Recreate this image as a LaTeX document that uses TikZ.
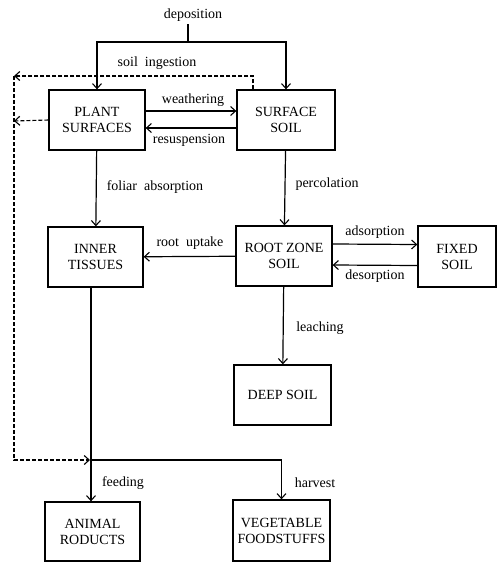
\documentclass[tikz,border=0pt]{standalone}
\usepackage{fontspec}
\setmainfont{Liberation Serif}
\usetikzlibrary{arrows.meta}
\begin{document}
\begin{tikzpicture}[x=1pt,y=-1pt,
  box/.style={draw,line width=1.3pt,rectangle,align=center,inner sep=0pt,font=\fontsize{14}{16}\selectfont},
  lbl/.style={font=\fontsize{14}{16}\selectfont,inner sep=0pt},
  conn/.style={line width=1.2pt,-{Straight Barb[length=5pt,width=9pt,line width=1.1pt]}},
  plain/.style={line width=1.2pt},
  dconn/.style={line width=1.1pt,dash pattern=on 4pt off 2pt,-{Straight Barb[length=5pt,width=9pt,line width=1.1pt]}},
  dplain/.style={line width=1.1pt,dash pattern=on 4pt off 2pt}]
\useasboundingbox (0,0) rectangle (498,563);
\fill[white] (0,0) rectangle (498,563);
% boxes
\node[box,minimum width=96pt,minimum height=60pt] (plant) at (97,120) {PLANT\\SURFACES};
\node[box,minimum width=98pt,minimum height=60pt] (surface) at (286,120) {SURFACE\\SOIL};
\node[box,minimum width=95pt,minimum height=60pt] (inner) at (95.5,257) {INNER\\TISSUES};
\node[box,minimum width=96pt,minimum height=60pt] (root) at (284,256) {ROOT ZONE\\SOIL};
\node[box,minimum width=78pt,minimum height=61pt] (fixed) at (457,256.5) {FIXED\\SOIL};
\node[box,minimum width=97pt,minimum height=60pt] (deep) at (282.5,395) {DEEP SOIL};
\node[box,minimum width=95pt,minimum height=59pt] (animal) at (92.5,531.5) {ANIMAL\\RODUCTS};
\node[box,minimum width=97pt,minimum height=61pt] (veg) at (281.5,530.5) {VEGETABLE\\FOODSTUFFS};
% deposition
\node[lbl] (dep) at (193,15) {deposition};
\coordinate (top) at (188,42);
\draw[plain] (188,24) -- (top);
\draw[conn] (top) -| (plant);
\draw[conn] (top) -| (surface);
% labels
\node[lbl] (lsoil) at (157,63) {soil\ \ ingestion};
\node[lbl] (lweath) at (193,100) {weathering};
\node[lbl] (lresus) at (189,140) {resuspension};
\node[lbl] (lfol) at (155,187) {foliar\ \ absorption};
\node[lbl] (lperc) at (327,184) {percolation};
\node[lbl] (lroot) at (190,243) {root\ \ uptake};
\node[lbl] (lads) at (375,232) {adsorption};
\node[lbl] (ldes) at (375,276) {desorption};
\node[lbl] (lleach) at (320,328) {leaching};
\node[lbl] (lfeed) at (123,483) {feeding};
\node[lbl] (lharv) at (315,483) {harvest};
% horizontal exchanges
\draw[conn] ([yshift=9pt]plant.east) -- ([yshift=9pt]surface.west);
\draw[conn] ([yshift=-8pt]surface.west) -- ([yshift=-8pt]plant.east);
\draw[conn] (root) -- (inner);
\draw[conn] ([yshift=12pt]root.east) -- ([yshift=12pt]fixed.west);
\draw[conn] ([yshift=-9pt]fixed.west) -- ([yshift=-9pt]root.east);
% verticals
\draw[conn] (plant) -- (inner);
\draw[conn] (surface) -- (root);
\draw[conn] (root) -- (deep);
% bottom distribution
\coordinate (junc) at (91,460);
\draw[plain] (inner.south -| junc) -- (junc);
\draw[conn] (junc) -- (animal.north -| junc);
\draw[conn] (junc) -| (veg);
% dashed returns
\coordinate (dl1) at (14,76);
\coordinate (dl2) at (14,121);
\coordinate (dl3) at (14,460);
\draw[dconn] ([xshift=-33pt]surface.north) |- (dl1);
\draw[dconn] (plant.west) -- (dl2);
\draw[dconn] (dl1) -- (dl3) -- ([xshift=-1pt]junc);
\end{tikzpicture}
\end{document}
